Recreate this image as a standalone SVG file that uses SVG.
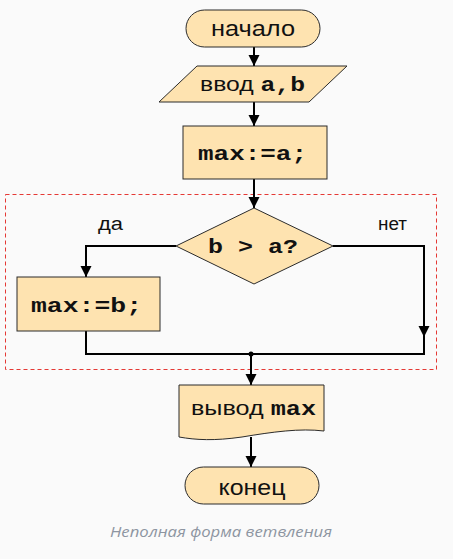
<svg xmlns="http://www.w3.org/2000/svg" width="453" height="559" viewBox="0 0 453 559">
<style>
.shape{fill:#fee3b0;stroke:#2b2b2b;stroke-width:1}
.sans{font-family:"Liberation Sans",Arial,sans-serif;fill:#111}
.mono{font-family:"Courier New","Liberation Mono",monospace;font-weight:bold;fill:#111}
.conn{fill:none;stroke:#000;stroke-width:2}
.lbl{font-family:"Liberation Sans",Arial,sans-serif;font-size:18px;fill:#111}
</style>
<defs>
<marker id="arr" markerUnits="userSpaceOnUse" markerWidth="11" markerHeight="12" refX="11" refY="5.5" orient="auto">
<path d="M0,0 L11,5.5 L0,11 Z" fill="#000"/>
</marker>
</defs>
<rect x="0" y="0" width="453" height="559" fill="#fafafa"/>
<rect id="region" x="5.5" y="194.5" width="431" height="175" fill="none" stroke="#e53935" stroke-width="1" stroke-dasharray="4,3"/>

<g id="connectors">
<path class="conn" d="M254,47 V66" marker-end="url(#arr)"/>
<path class="conn" d="M254,102 V126" marker-end="url(#arr)"/>
<path class="conn" d="M254,179 V208" marker-end="url(#arr)"/>
<path class="conn" d="M176,246 H86 V277" marker-end="url(#arr)"/>
<path class="conn" d="M333,246 H424 V337" marker-end="url(#arr)"/>
<path class="conn" d="M86,331 V354 H424 V336"/>
<circle cx="251" cy="354" r="2.5" fill="#000"/>
<path class="conn" d="M251,354 V385" marker-end="url(#arr)"/>
<path class="conn" d="M251,437 V467" marker-end="url(#arr)"/>
<text class="lbl" x="98" y="229.5" textLength="25" lengthAdjust="spacingAndGlyphs">да</text>
<text class="lbl" x="378" y="229.5" textLength="29" lengthAdjust="spacingAndGlyphs">нет</text>
</g>

<g id="start">
<rect class="shape" x="186" y="10" width="134" height="37" rx="18.5"/>
<text class="sans" x="253" y="36" font-size="22" text-anchor="middle" textLength="84" lengthAdjust="spacingAndGlyphs">начало</text>
</g>

<g id="input">
<polygon class="shape" points="197,66 347,66 309,102 159,102"/>
<text x="200" y="91" font-size="21" textLength="105" lengthAdjust="spacingAndGlyphs"><tspan class="sans">ввод </tspan><tspan class="mono">a,b</tspan></text>
</g>

<g id="assignA">
<rect class="shape" x="183" y="126" width="144" height="53"/>
<text class="mono" x="198" y="160" font-size="21" textLength="109" lengthAdjust="spacingAndGlyphs">max:=a;</text>
</g>

<g id="decision">
<polygon class="shape" points="254,208 333,246 254,284 176,246"/>
<text class="mono" x="208" y="253" font-size="21" textLength="90" lengthAdjust="spacingAndGlyphs">b &gt; a?</text>
</g>

<g id="assignB">
<rect class="shape" x="17" y="277" width="143" height="54"/>
<text class="mono" x="31" y="312" font-size="21" textLength="111" lengthAdjust="spacingAndGlyphs">max:=b;</text>
</g>

<g id="output">
<path class="shape" d="M179,385 H324 V431 C300,428 272,432 242,437 C214,441 196,440 179,437 Z"/>
<text x="191" y="415" font-size="21" textLength="125" lengthAdjust="spacingAndGlyphs"><tspan class="sans">вывод </tspan><tspan class="mono">max</tspan></text>
</g>

<g id="end">
<rect class="shape" x="185" y="467" width="134" height="37" rx="18.5"/>
<text class="sans" x="252" y="495" font-size="22" text-anchor="middle" textLength="67" lengthAdjust="spacingAndGlyphs">конец</text>
</g>

<text x="110" y="537" font-family="'Open Sans',sans-serif" font-style="italic" font-size="15" fill="#8d95a1" textLength="222" lengthAdjust="spacingAndGlyphs">Неполная форма ветвления</text>
</svg>
